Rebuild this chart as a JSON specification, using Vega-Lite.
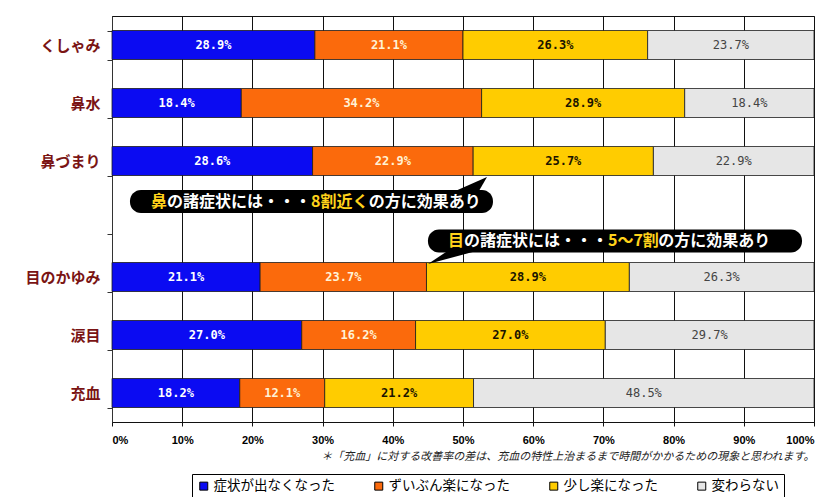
{
  "$schema": "https://vega.github.io/schema/vega-lite/v6.json",
  "width": 702,
  "height": 406,
  "autosize": {"type": "none"},
  "padding": {"left": 112, "top": 16, "right": 11, "bottom": 75},
  "background": "white",
  "config": {"view": {"stroke": "#111", "strokeWidth": 1}, "font": "Noto Sans CJK JP"},
  "datasets": {
    "main": [
      {"c": "くしゃみ", "s": "症状が出なくなった", "k": 1, "v": 0.289},
      {"c": "くしゃみ", "s": "ずいぶん楽になった", "k": 2, "v": 0.211},
      {"c": "くしゃみ", "s": "少し楽になった", "k": 3, "v": 0.263},
      {"c": "くしゃみ", "s": "変わらない", "k": 4, "v": 0.237},
      {"c": "鼻水", "s": "症状が出なくなった", "k": 1, "v": 0.184},
      {"c": "鼻水", "s": "ずいぶん楽になった", "k": 2, "v": 0.342},
      {"c": "鼻水", "s": "少し楽になった", "k": 3, "v": 0.289},
      {"c": "鼻水", "s": "変わらない", "k": 4, "v": 0.184},
      {"c": "鼻づまり", "s": "症状が出なくなった", "k": 1, "v": 0.286},
      {"c": "鼻づまり", "s": "ずいぶん楽になった", "k": 2, "v": 0.229},
      {"c": "鼻づまり", "s": "少し楽になった", "k": 3, "v": 0.257},
      {"c": "鼻づまり", "s": "変わらない", "k": 4, "v": 0.229},
      {"c": "目のかゆみ", "s": "症状が出なくなった", "k": 1, "v": 0.211},
      {"c": "目のかゆみ", "s": "ずいぶん楽になった", "k": 2, "v": 0.237},
      {"c": "目のかゆみ", "s": "少し楽になった", "k": 3, "v": 0.289},
      {"c": "目のかゆみ", "s": "変わらない", "k": 4, "v": 0.263},
      {"c": "涙目", "s": "症状が出なくなった", "k": 1, "v": 0.270},
      {"c": "涙目", "s": "ずいぶん楽になった", "k": 2, "v": 0.162},
      {"c": "涙目", "s": "少し楽になった", "k": 3, "v": 0.270},
      {"c": "涙目", "s": "変わらない", "k": 4, "v": 0.297},
      {"c": "充血", "s": "症状が出なくなった", "k": 1, "v": 0.182},
      {"c": "充血", "s": "ずいぶん楽になった", "k": 2, "v": 0.121},
      {"c": "充血", "s": "少し楽になった", "k": 3, "v": 0.212},
      {"c": "充血", "s": "変わらない", "k": 4, "v": 0.485}
    ],
    "boxes": [
      {"c": " ", "a": 0.0256, "b": 0.5427, "g": "upper"},
      {"c": " ", "a": 0.4501, "b": 0.9829, "g": "lower"}
    ],
    "notes": [
      {"c": " ", "g": "upper", "h": "yes", "a": 0.0556, "t": "鼻"},
      {"c": " ", "g": "upper", "h": "no", "a": 0.07839, "t": "の諸症状には・・・"},
      {"c": " ", "g": "upper", "h": "yes", "a": 0.28352, "t": "8割近く"},
      {"c": " ", "g": "upper", "h": "no", "a": 0.36557, "t": "の方に効果あり"},
      {"c": " ", "g": "lower", "h": "yes", "a": 0.4786, "t": "目"},
      {"c": " ", "g": "lower", "h": "no", "a": 0.50139, "t": "の諸症状には・・・"},
      {"c": " ", "g": "lower", "h": "yes", "a": 0.70652, "t": "5～7割"},
      {"c": " ", "g": "lower", "h": "no", "a": 0.77831, "t": "の方に効果あり"}
    ]
  },
  "layer": [
    {
      "data": {"name": "main"},
      "transform": [
        {"stack": "v", "groupby": ["c"], "sort": [{"field": "k", "order": "ascending"}], "offset": "normalize", "as": ["x0", "x1"]},
        {"calculate": "(datum.x0 + datum.x1) / 2", "as": "xm"}
      ],
      "layer": [
        {
          "mark": {"type": "bar", "stroke": "#1a1a1a", "strokeWidth": 0.8},
          "encoding": {
            "y": {
              "field": "c", "type": "nominal", "title": null,
              "scale": {"domain": ["くしゃみ", "鼻水", "鼻づまり", " ", "目のかゆみ", "涙目", "充血"], "paddingInner": 0.5, "paddingOuter": 0.25},
              "axis": {"labelFontSize": 15, "labelFontWeight": "bold", "labelColor": "#7a1414", "labelFont": "Noto Sans CJK JP", "labelPadding": 7, "tickBand": "extent", "tickSize": 5, "tickColor": "#333", "domainColor": "#333", "grid": false}
            },
            "x": {
              "field": "x0", "type": "quantitative",
              "title": "＊「充血」に対する改善率の差は、充血の特性上治まるまで時間がかかるための現象と思われます。",
              "scale": {"domain": [0, 1], "nice": false},
              "axis": {"values": [0, 0.1, 0.2, 0.3, 0.4, 0.5, 0.6, 0.7, 0.8, 0.9, 1], "format": ".0%", "labelFontSize": 11, "labelFontWeight": "bold", "labelColor": "#000", "labelFont": "Liberation Sans", "labelPadding": 8, "grid": true, "gridColor": "#111", "gridWidth": 1, "tickSize": 4, "tickColor": "#111", "domainColor": "#111",
                "titleFont": "Noto Sans CJK JP", "titleFontSize": 11, "titleFontWeight": "normal", "titleFontStyle": "italic", "titleColor": "#222", "titleAnchor": "end", "titlePadding": 5}
            },
            "x2": {"field": "x1"},
            "color": {
              "field": "s", "type": "nominal",
              "scale": {"domain": ["症状が出なくなった", "ずいぶん楽になった", "少し楽になった", "変わらない"], "range": ["#0b0bf2", "#fb6a0c", "#ffcc00", "#e6e6e6"]},
              "legend": {"orient": "none", "legendX": 80, "legendY": 458, "direction": "horizontal", "title": null, "columnPadding": 37, "symbolType": "square", "symbolSize": 64, "symbolStrokeColor": "#000", "symbolStrokeWidth": 1, "labelFontSize": 13.5, "labelFont": "Noto Sans CJK JP", "labelColor": "#000", "labelOffset": 3, "strokeColor": "#000", "fillColor": "white", "padding": 5}
            }
          }
        },
        {
          "transform": [{"filter": {"field": "k", "oneOf": [1]}}],
          "mark": {"type": "text", "font": "DejaVu Sans Mono", "fontWeight": "bold", "fontSize": 12, "color": "#ffffff", "baseline": "middle"},
          "encoding": {
            "y": {"field": "c", "type": "nominal"},
            "x": {"field": "xm", "type": "quantitative"},
            "text": {"field": "v", "type": "quantitative", "format": ".1%"}
          }
        },
        {
          "transform": [{"filter": {"field": "k", "oneOf": [2]}}],
          "mark": {"type": "text", "font": "DejaVu Sans Mono", "fontWeight": "bold", "fontSize": 12, "color": "#fff2d6", "baseline": "middle"},
          "encoding": {
            "y": {"field": "c", "type": "nominal"},
            "x": {"field": "xm", "type": "quantitative"},
            "text": {"field": "v", "type": "quantitative", "format": ".1%"}
          }
        },
        {
          "transform": [{"filter": {"field": "k", "oneOf": [3]}}],
          "mark": {"type": "text", "font": "DejaVu Sans Mono", "fontWeight": "bold", "fontSize": 12, "color": "#1a1400", "baseline": "middle"},
          "encoding": {
            "y": {"field": "c", "type": "nominal"},
            "x": {"field": "xm", "type": "quantitative"},
            "text": {"field": "v", "type": "quantitative", "format": ".1%"}
          }
        },
        {
          "transform": [{"filter": {"field": "k", "oneOf": [4]}}],
          "mark": {"type": "text", "font": "DejaVu Sans Mono", "fontWeight": "normal", "fontSize": 12, "color": "#444444", "baseline": "middle"},
          "encoding": {
            "y": {"field": "c", "type": "nominal"},
            "x": {"field": "xm", "type": "quantitative"},
            "text": {"field": "v", "type": "quantitative", "format": ".1%"}
          }
        }
      ]
    },
    {
      "data": {"name": "boxes"},
      "transform": [{"filter": {"field": "g", "equal": "upper"}}],
      "mark": {"type": "bar", "height": 23, "yOffset": -17.5, "cornerRadius": 11, "color": "#000000"},
      "encoding": {
        "y": {"field": "c", "type": "nominal"},
        "x": {"field": "a", "type": "quantitative"},
        "x2": {"field": "b"}
      }
    },
    {
      "data": {"values": [{"c": " ", "a": 0.5043}]},
      "mark": {"type": "point", "shape": "M-1.1,0.3L0.5,0.3L1.05,-0.65Z", "size": 1600, "filled": true, "color": "#000000", "opacity": 1, "strokeWidth": 0, "yOffset": -29},
      "encoding": {
        "y": {"field": "c", "type": "nominal"},
        "x": {"field": "a", "type": "quantitative"}
      }
    },
    {
      "data": {"name": "boxes"},
      "transform": [{"filter": {"field": "g", "equal": "lower"}}],
      "mark": {"type": "bar", "height": 23, "yOffset": 22, "cornerRadius": 11, "color": "#000000"},
      "encoding": {
        "y": {"field": "c", "type": "nominal"},
        "x": {"field": "a", "type": "quantitative"},
        "x2": {"field": "b"}
      }
    },
    {
      "data": {"values": [{"c": " ", "a": 0.51}]},
      "mark": {"type": "point", "shape": "M-0.75,-0.3L1.25,-0.3L-2.1,0.6Z", "size": 1600, "filled": true, "color": "#000000", "opacity": 1, "strokeWidth": 0, "yOffset": 33},
      "encoding": {
        "y": {"field": "c", "type": "nominal"},
        "x": {"field": "a", "type": "quantitative"}
      }
    },
    {
      "data": {"name": "notes"},
      "transform": [{"filter": {"field": "g", "equal": "upper"}}],
      "mark": {"type": "text", "align": "left", "baseline": "middle", "yOffset": -17.5, "fontSize": 16, "fontWeight": "bold", "font": "Noto Sans CJK JP"},
      "encoding": {
        "y": {"field": "c", "type": "nominal"},
        "x": {"field": "a", "type": "quantitative"},
        "text": {"field": "t"},
        "color": {"field": "h", "type": "nominal", "scale": {"domain": ["no", "yes"], "range": ["#ffffff", "#ffd21a"]}, "legend": null}
      }
    },
    {
      "data": {"name": "notes"},
      "transform": [{"filter": {"field": "g", "equal": "lower"}}],
      "mark": {"type": "text", "align": "left", "baseline": "middle", "yOffset": 22, "fontSize": 16, "fontWeight": "bold", "font": "Noto Sans CJK JP"},
      "encoding": {
        "y": {"field": "c", "type": "nominal"},
        "x": {"field": "a", "type": "quantitative"},
        "text": {"field": "t"},
        "color": {"field": "h", "type": "nominal", "scale": {"domain": ["no", "yes"], "range": ["#ffffff", "#ffd21a"]}, "legend": null}
      }
    }
  ],
  "resolve": {"scale": {"color": "independent"}}
}
